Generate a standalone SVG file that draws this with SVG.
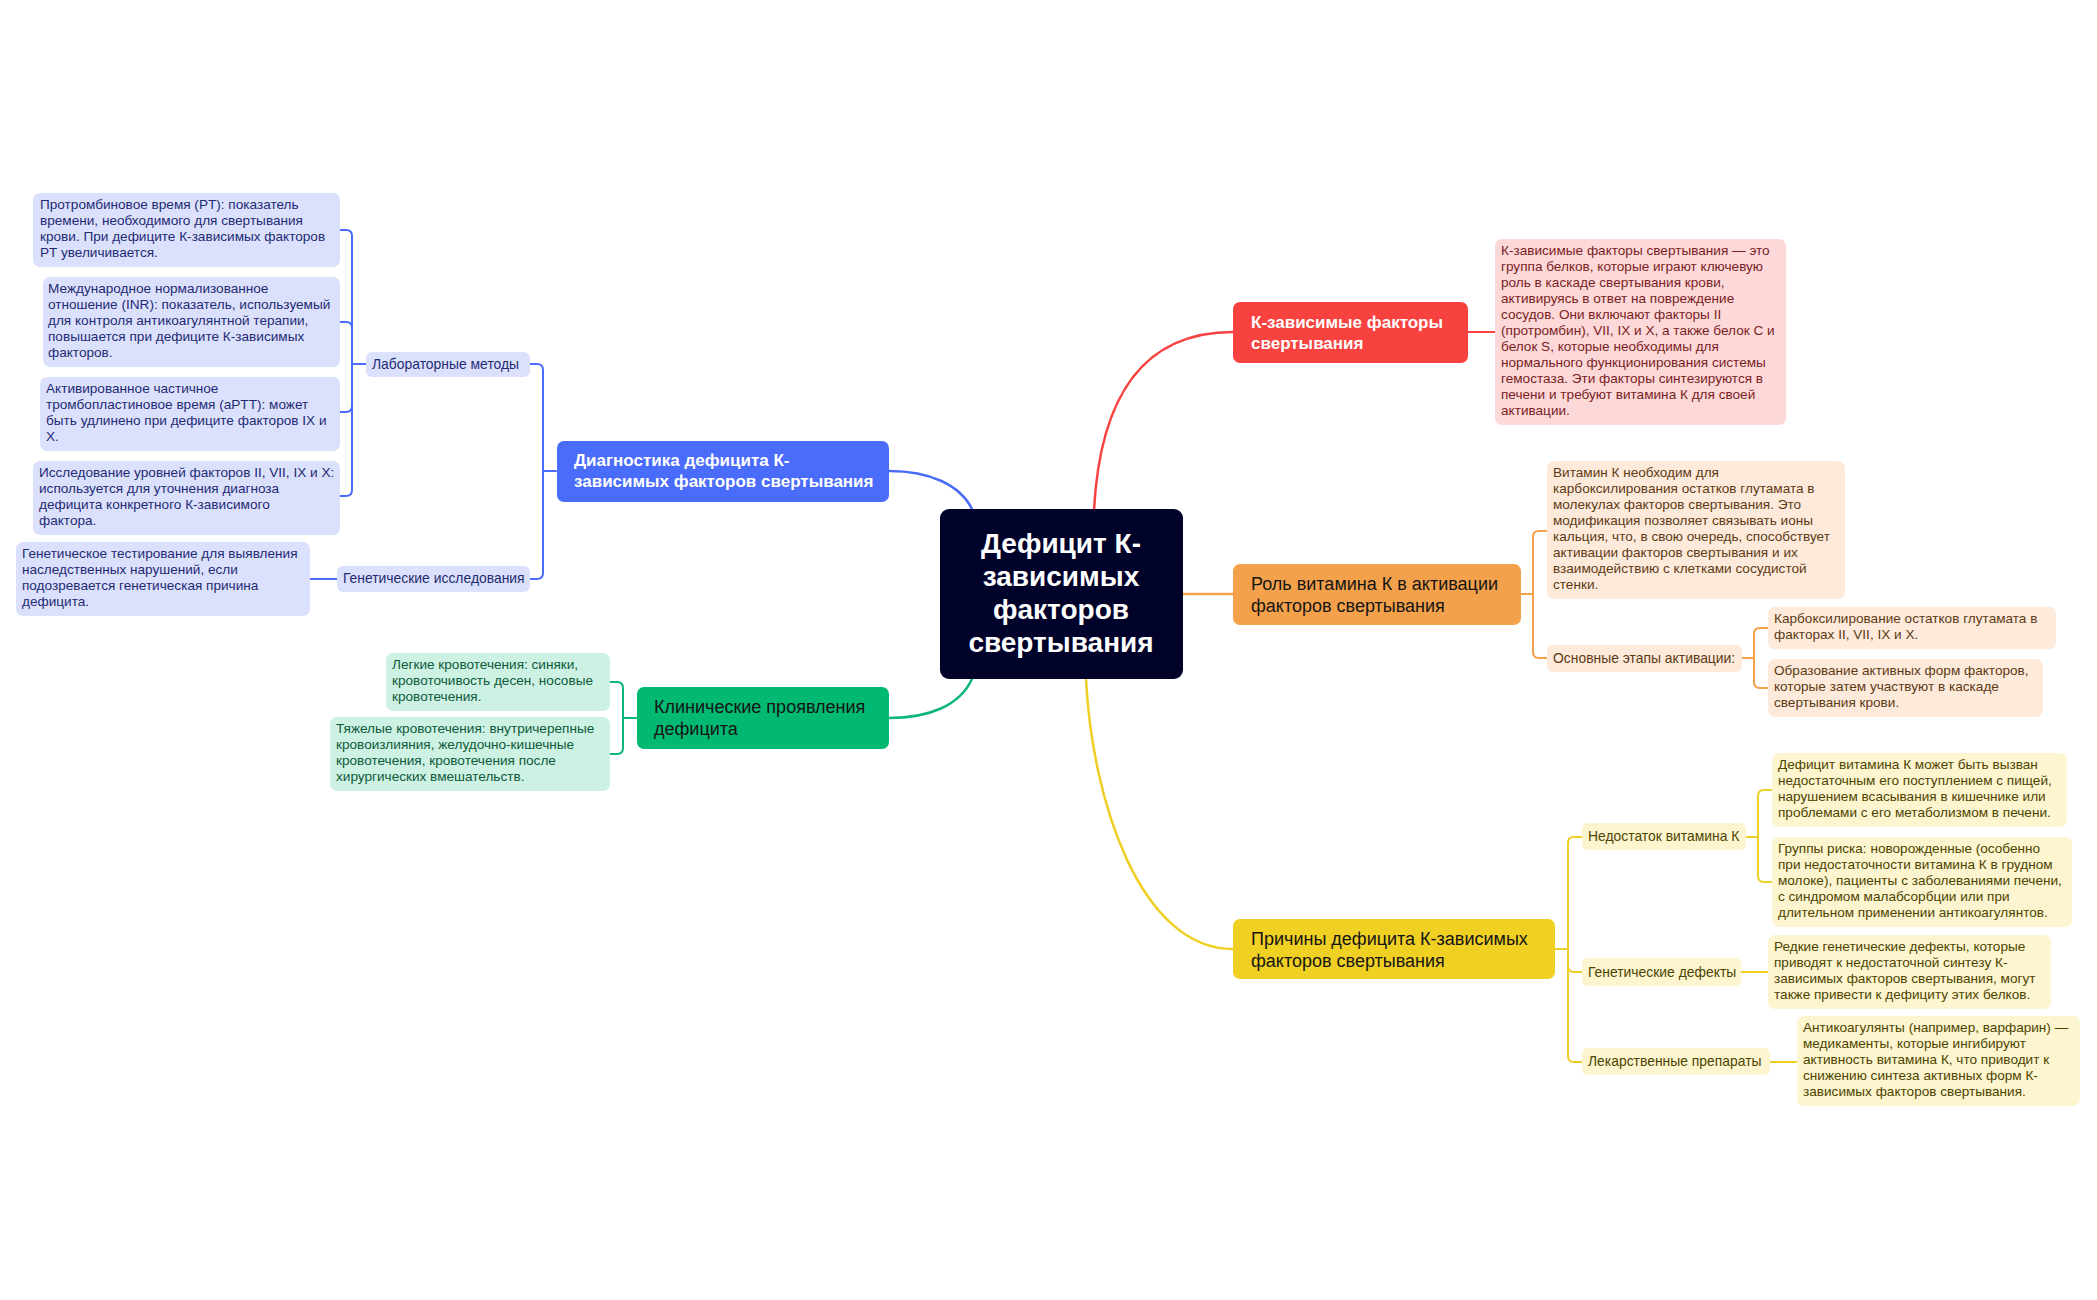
<svg xmlns="http://www.w3.org/2000/svg" width="2097" height="1300" viewBox="0 0 2097 1300">
<style>
text{font-family:"Liberation Sans",Arial,sans-serif;}
.lf{font-size:13.6px;}
.pl{font-size:13.9px;}
.mn{font-size:18px;}
.mb{font-size:17px;font-weight:bold;fill:#ffffff;}
.md{fill:#151515;}
.ctr{font-size:28px;font-weight:bold;fill:#ffffff;text-anchor:middle;}
.bB{fill:#dbe1fd;} .tB{fill:#1f2b72;}
.bG{fill:#cdf1e2;} .tG{fill:#0d5a3a;}
.bR{fill:#fdd8d8;} .tR{fill:#7a1f1f;}
.bO{fill:#fdeadb;} .tO{fill:#5e3a14;}
.bY{fill:#fdf5cf;} .tY{fill:#4d4400;}
.c{fill:none;stroke-width:2;stroke-linecap:round;}
.cm{fill:none;stroke-width:2.5;stroke-linecap:round;}
.sB{stroke:#4a6cfb;} .sG{stroke:#0cb77a;} .sR{stroke:#f8423f;} .sO{stroke:#f4a14c;} .sY{stroke:#f0cf25;}
</style>
<rect width="2097" height="1300" fill="#ffffff"/>

<g id="connectors">
  <path class="cm sR" d="M1094,510 C1100,400 1140,332 1233,332"/>
  <path class="cm sO" d="M1183,594 H1233"/>
  <path class="cm sY" d="M1086,679 C1092,800 1140,949 1233,949"/>
  <path class="cm sB" d="M972,509 C960,485 930,471 889,471"/>
  <path class="cm sG" d="M972,679 C960,705 930,718 889,718"/>
  <path class="c sB" d="M556,471 H543 M530,364 H537 Q543,364 543,370 V573 Q543,579 537,579 H530"/>
  <path class="c sB" d="M366,364 H352 M340,230 H346 Q352,230 352,236 V490 Q352,496 346,496 H340 M340,322 H346 Q352,322 352,328 M340,412 H346 Q352,412 352,406"/>
  <path class="c sB" d="M337,579 H310"/>
  <path class="c sG" d="M637,718 H623 M610,682 H617 Q623,682 623,688 V748 Q623,754 617,754 H610"/>
  <path class="c sR" d="M1468,332 H1495"/>
  <path class="c sO" d="M1521,594 H1533 M1547,531 H1539 Q1533,531 1533,537 V652 Q1533,658 1539,658 H1547"/>
  <path class="c sO" d="M1742,658 H1754 M1768,628 H1760 Q1754,628 1754,634 V682 Q1754,688 1760,688 H1768"/>
  <path class="c sY" d="M1555,949 H1568 M1582,837 H1574 Q1568,837 1568,843 V1056 Q1568,1062 1574,1062 H1582 M1582,972 H1574 Q1568,972 1568,966"/>
  <path class="c sY" d="M1746,837 H1758 M1772,790 H1764 Q1758,790 1758,796 V876 Q1758,882 1764,882 H1772"/>
  <path class="c sY" d="M1741,972 H1768"/>
  <path class="c sY" d="M1770,1062 H1797"/>
</g>

<g id="central">
  <rect x="940" y="509" width="243" height="170" rx="9" fill="#00022a"/>
  <text class="ctr" x="1061" y="553">Дефицит К-</text>
  <text class="ctr" x="1061" y="586">зависимых</text>
  <text class="ctr" x="1061" y="619">факторов</text>
  <text class="ctr" x="1061" y="652">свертывания</text>
</g>

<g id="diag">
  <rect x="557" y="441" width="332" height="61" rx="7" fill="#4a6cfb"/>
  <text class="mb" x="574" y="466">Диагностика дефицита К-</text>
  <text class="mb" x="574" y="487">зависимых факторов свертывания</text>
</g>
<g id="lab">
  <rect class="bB" x="366" y="352" width="164" height="25" rx="6"/>
  <text class="pl tB" x="372" y="369">Лабораторные методы</text>
</g>
<g id="genres">
  <rect class="bB" x="337" y="566" width="193" height="26" rx="6"/>
  <text class="pl tB" x="343" y="583">Генетические исследования</text>
</g>
<g id="pt">
  <rect class="bB" x="33" y="193" width="307" height="74" rx="7"/>
  <text class="lf tB"><tspan x="40" y="209">Протромбиновое время (PT): показатель</tspan><tspan x="40" y="225">времени, необходимого для свертывания</tspan><tspan x="40" y="241">крови. При дефиците К-зависимых факторов</tspan><tspan x="40" y="257">PT увеличивается.</tspan></text>
</g>
<g id="inr">
  <rect class="bB" x="43" y="277" width="297" height="90" rx="7"/>
  <text class="lf tB"><tspan x="48" y="293">Международное нормализованное</tspan><tspan x="48" y="309">отношение (INR): показатель, используемый</tspan><tspan x="48" y="325">для контроля антикоагулянтной терапии,</tspan><tspan x="48" y="341">повышается при дефиците К-зависимых</tspan><tspan x="48" y="357">факторов.</tspan></text>
</g>
<g id="aptt">
  <rect class="bB" x="40" y="377" width="300" height="74" rx="7"/>
  <text class="lf tB"><tspan x="46" y="393">Активированное частичное</tspan><tspan x="46" y="409">тромбопластиновое время (aPTT): может</tspan><tspan x="46" y="425">быть удлинено при дефиците факторов IX и</tspan><tspan x="46" y="441">X.</tspan></text>
</g>
<g id="levels">
  <rect class="bB" x="33" y="461" width="307" height="74" rx="7"/>
  <text class="lf tB"><tspan x="39" y="477">Исследование уровней факторов II, VII, IX и X:</tspan><tspan x="39" y="493">используется для уточнения диагноза</tspan><tspan x="39" y="509">дефицита конкретного К-зависимого</tspan><tspan x="39" y="525">фактора.</tspan></text>
</g>
<g id="gentest">
  <rect class="bB" x="16" y="542" width="294" height="74" rx="7"/>
  <text class="lf tB"><tspan x="22" y="558">Генетическое тестирование для выявления</tspan><tspan x="22" y="574">наследственных нарушений, если</tspan><tspan x="22" y="590">подозревается генетическая причина</tspan><tspan x="22" y="606">дефицита.</tspan></text>
</g>

<g id="clinic">
  <rect x="637" y="687" width="252" height="62" rx="7" fill="#01b972"/>
  <text class="mn md" x="654" y="713">Клинические проявления</text>
  <text class="mn md" x="654" y="735">дефицита</text>
</g>
<g id="mild">
  <rect class="bG" x="386" y="653" width="224" height="58" rx="7"/>
  <text class="lf tG"><tspan x="392" y="669">Легкие кровотечения: синяки,</tspan><tspan x="392" y="685">кровоточивость десен, носовые</tspan><tspan x="392" y="701">кровотечения.</tspan></text>
</g>
<g id="severe">
  <rect class="bG" x="330" y="717" width="280" height="74" rx="7"/>
  <text class="lf tG"><tspan x="336" y="733">Тяжелые кровотечения: внутричерепные</tspan><tspan x="336" y="749">кровоизлияния, желудочно-кишечные</tspan><tspan x="336" y="765">кровотечения, кровотечения после</tspan><tspan x="336" y="781">хирургических вмешательств.</tspan></text>
</g>

<g id="kfactors">
  <rect x="1233" y="302" width="235" height="61" rx="7" fill="#f8423f"/>
  <text class="mb" x="1251" y="328">К-зависимые факторы</text>
  <text class="mb" x="1251" y="349">свертывания</text>
</g>
<g id="kdef">
  <rect class="bR" x="1495" y="239" width="291" height="186" rx="7"/>
  <text class="lf tR"><tspan x="1501" y="255">К-зависимые факторы свертывания — это</tspan><tspan x="1501" y="271">группа белков, которые играют ключевую</tspan><tspan x="1501" y="287">роль в каскаде свертывания крови,</tspan><tspan x="1501" y="303">активируясь в ответ на повреждение</tspan><tspan x="1501" y="319">сосудов. Они включают факторы II</tspan><tspan x="1501" y="335">(протромбин), VII, IX и X, а также белок С и</tspan><tspan x="1501" y="351">белок S, которые необходимы для</tspan><tspan x="1501" y="367">нормального функционирования системы</tspan><tspan x="1501" y="383">гемостаза. Эти факторы синтезируются в</tspan><tspan x="1501" y="399">печени и требуют витамина К для своей</tspan><tspan x="1501" y="415">активации.</tspan></text>
</g>

<g id="role">
  <rect x="1233" y="564" width="288" height="61" rx="7" fill="#f4a14c"/>
  <text class="mn md" x="1251" y="590">Роль витамина К в активации</text>
  <text class="mn md" x="1251" y="612">факторов свертывания</text>
</g>
<g id="vitk">
  <rect class="bO" x="1547" y="461" width="298" height="138" rx="7"/>
  <text class="lf tO"><tspan x="1553" y="477">Витамин К необходим для</tspan><tspan x="1553" y="493">карбоксилирования остатков глутамата в</tspan><tspan x="1553" y="509">молекулах факторов свертывания. Это</tspan><tspan x="1553" y="525">модификация позволяет связывать ионы</tspan><tspan x="1553" y="541">кальция, что, в свою очередь, способствует</tspan><tspan x="1553" y="557">активации факторов свертывания и их</tspan><tspan x="1553" y="573">взаимодействию с клетками сосудистой</tspan><tspan x="1553" y="589">стенки.</tspan></text>
</g>
<g id="stages">
  <rect class="bO" x="1547" y="645" width="195" height="27" rx="6"/>
  <text class="pl tO" x="1553" y="663">Основные этапы активации:</text>
</g>
<g id="carbox">
  <rect class="bO" x="1768" y="607" width="288" height="42" rx="7"/>
  <text class="lf tO"><tspan x="1774" y="623">Карбоксилирование остатков глутамата в</tspan><tspan x="1774" y="639">факторах II, VII, IX и X.</tspan></text>
</g>
<g id="active">
  <rect class="bO" x="1768" y="659" width="275" height="58" rx="7"/>
  <text class="lf tO"><tspan x="1774" y="675">Образование активных форм факторов,</tspan><tspan x="1774" y="691">которые затем участвуют в каскаде</tspan><tspan x="1774" y="707">свертывания крови.</tspan></text>
</g>

<g id="causes">
  <rect x="1233" y="919" width="322" height="60" rx="7" fill="#f1d024"/>
  <text class="mn md" x="1251" y="945">Причины дефицита К-зависимых</text>
  <text class="mn md" x="1251" y="967">факторов свертывания</text>
</g>
<g id="lack">
  <rect class="bY" x="1582" y="823" width="164" height="27" rx="6"/>
  <text class="pl tY" x="1588" y="841">Недостаток витамина К</text>
</g>
<g id="lack1">
  <rect class="bY" x="1772" y="753" width="295" height="74" rx="7"/>
  <text class="lf tY"><tspan x="1778" y="769">Дефицит витамина К может быть вызван</tspan><tspan x="1778" y="785">недостаточным его поступлением с пищей,</tspan><tspan x="1778" y="801">нарушением всасывания в кишечнике или</tspan><tspan x="1778" y="817">проблемами с его метаболизмом в печени.</tspan></text>
</g>
<g id="lack2">
  <rect class="bY" x="1772" y="837" width="300" height="90" rx="7"/>
  <text class="lf tY"><tspan x="1778" y="853">Группы риска: новорожденные (особенно</tspan><tspan x="1778" y="869">при недостаточности витамина К в грудном</tspan><tspan x="1778" y="885">молоке), пациенты с заболеваниями печени,</tspan><tspan x="1778" y="901">с синдромом малабсорбции или при</tspan><tspan x="1778" y="917">длительном применении антикоагулянтов.</tspan></text>
</g>
<g id="gendef">
  <rect class="bY" x="1582" y="958" width="159" height="28" rx="6"/>
  <text class="pl tY" x="1588" y="977">Генетические дефекты</text>
</g>
<g id="gendef1">
  <rect class="bY" x="1768" y="935" width="283" height="74" rx="7"/>
  <text class="lf tY"><tspan x="1774" y="951">Редкие генетические дефекты, которые</tspan><tspan x="1774" y="967">приводят к недостаточной синтезу К-</tspan><tspan x="1774" y="983">зависимых факторов свертывания, могут</tspan><tspan x="1774" y="999">также привести к дефициту этих белков.</tspan></text>
</g>
<g id="drugs">
  <rect class="bY" x="1582" y="1048" width="188" height="27" rx="6"/>
  <text class="pl tY" x="1588" y="1066">Лекарственные препараты</text>
</g>
<g id="drugs1">
  <rect class="bY" x="1797" y="1016" width="283" height="90" rx="7"/>
  <text class="lf tY"><tspan x="1803" y="1032">Антикоагулянты (например, варфарин) —</tspan><tspan x="1803" y="1048">медикаменты, которые ингибируют</tspan><tspan x="1803" y="1064">активность витамина К, что приводит к</tspan><tspan x="1803" y="1080">снижению синтеза активных форм К-</tspan><tspan x="1803" y="1096">зависимых факторов свертывания.</tspan></text>
</g>
</svg>
